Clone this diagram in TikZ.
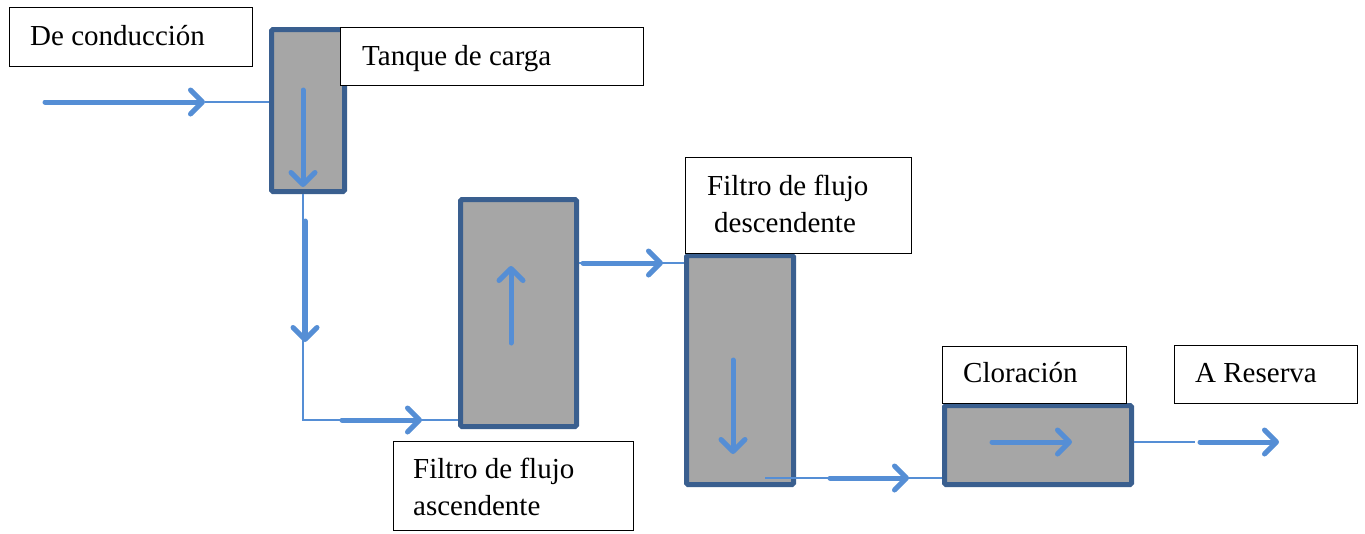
\documentclass[tikz,border=0pt]{standalone}
\usepackage{fontspec}
\setmainfont{Liberation Serif}
\usetikzlibrary{arrows.meta}
\definecolor{flow}{HTML}{558ED5}
\definecolor{edgeblue}{HTML}{3A5F8F}
\definecolor{tankgray}{HTML}{A6A6A6}
\tikzset{
 vessel/.style={draw=edgeblue, fill=tankgray, line width=5pt, rounded corners=1.5pt, inner sep=0pt, anchor=north west},
 labelbox/.style={draw=black, line width=1.4pt, fill=white, inner sep=0pt, anchor=north west},
 txt/.style={anchor=base west, inner sep=0pt, font=\fontsize{29}{35}\selectfont},
 pipe/.style={draw=flow, line width=1.3pt},
 flowarrow/.style={draw=flow, line width=5pt, line cap=round, -{Straight Barb[length=12pt,width=24pt,line width=5pt,round]}},
}
\begin{document}
\begin{tikzpicture}[x=1pt,y=-1pt]
\useasboundingbox (0,0) rectangle (1365,533);
% vessels
\node[vessel, minimum width=73pt, minimum height=162pt] (tank) at (269,27) {};
\node[vessel, minimum width=116pt, minimum height=227pt] (asc) at (458,197) {};
\node[vessel, minimum width=107pt, minimum height=229pt] (desc) at (684,253) {};
\node[vessel, minimum width=187pt, minimum height=79pt] (cl) at (942,403) {};
% label boxes
\node[labelbox, minimum width=243pt, minimum height=59pt] (b1) at (9,7) {};
\node[labelbox, minimum width=303pt, minimum height=58pt] (b2) at (340,27) {};
\node[labelbox, minimum width=240pt, minimum height=89pt] (b3) at (393,441) {};
\node[labelbox, minimum width=226pt, minimum height=96pt] (b4) at (685,157) {};
\node[labelbox, minimum width=184pt, minimum height=57pt] (b5) at (942,346) {};
\node[labelbox, minimum width=183pt, minimum height=58pt] (b6) at (1174,345) {};
% texts
\node[txt] (t1) at (30,45) {De conducción};
\node[txt] (t2) at (362,65) {Tanque de carga};
\node[txt] (t3a) at (413,478) {Filtro de flujo};
\node[txt] (t3b) at (413,515) {ascendente};
\node[txt] (t4a) at (707,195) {Filtro de flujo};
\node[txt] (t4b) at (714,232) {descendente};
\node[txt] (t5) at (963,382) {Cloración};
\node[txt] (t6) at (1195,382) {A Reserva};
% coordinates
\coordinate (srcS) at (45,102);
\coordinate (srcE) at (205,102);
\coordinate (c1) at (303,420);
\coordinate (y2) at (0,263);
\coordinate (y3) at (0,478);
\coordinate (p3) at (765,478);
\coordinate (y4) at (0,442);
\coordinate (outE) at (1195,442);
% thin pipes
\draw[pipe] (srcE) -- (tank.west |- srcE);
\draw[pipe] (tank.south -| c1) -- (c1) -- (c1 -| asc.west);
\draw[pipe] (asc.east |- y2) -- (desc.west |- y2);
\draw[pipe] (p3) -- (cl.west |- y3);
\draw[pipe] (cl.east |- y4) -- (outE);
% thick flow arrows
\draw[flowarrow] (srcS) -- (srcE);
\draw[flowarrow] (303,90) -- (303,187);
\draw[flowarrow] (305,221) -- (305,342);
\draw[flowarrow] (342,420) -- (422,420);
\draw[flowarrow] (511,343) -- (511,266);
\draw[flowarrow] (583,263) -- (663,263);
\draw[flowarrow] (733,360) -- (733,454);
\draw[flowarrow] (830,478) -- (909,478);
\draw[flowarrow] (992,442) -- (1072,442);
\draw[flowarrow] (1200,442) -- (1279,442);
\end{tikzpicture}
\end{document}
